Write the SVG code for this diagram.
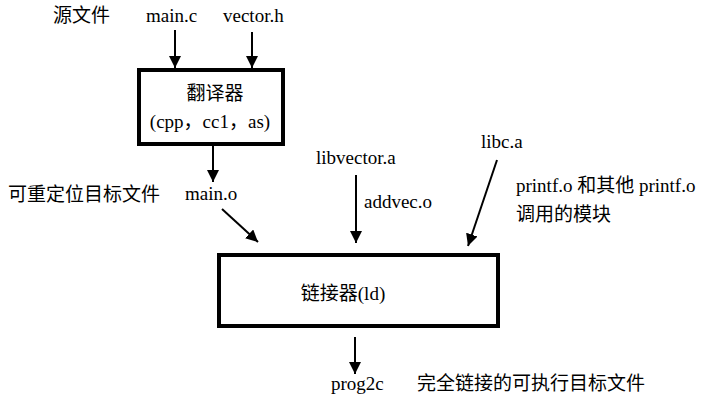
<svg xmlns="http://www.w3.org/2000/svg" width="713" height="406" viewBox="0 0 713 406">
<defs>
<marker id="ah" viewBox="0 0 12 12" refX="12" refY="6" markerWidth="12" markerHeight="12" markerUnits="userSpaceOnUse" orient="auto">
<path d="M0,0 L12,6 L0,12 Z" fill="#000"/>
</marker>
</defs>
<style>
text{font-family:"Liberation Serif","Noto Sans CJK SC",serif;font-size:19px;fill:#000}
.box{fill:#fff;stroke:#000;stroke-width:4}
.c{stroke:#000;stroke-width:2;fill:none;marker-end:url(#ah)}
</style>
<rect width="713" height="406" fill="#fff"/>
<g id="labels">
<text x="53" y="22">源文件</text>
<text x="146" y="22">main.c</text>
<text x="223" y="22">vector.h</text>
<text x="8" y="201">可重定位目标文件</text>
<text x="185" y="200">main.o</text>
<text x="316" y="164">libvector.a</text>
<text x="481" y="148">libc.a</text>
<text x="364" y="208">addvec.o</text>
<text x="516" y="192">printf.o 和其他 printf.o</text>
<text x="516" y="221">调用的模块</text>
<text x="331" y="390">prog2c</text>
<text x="417" y="390">完全链接的可执行目标文件</text>
</g>
<g id="translator">
<rect class="box" x="139" y="70" width="144" height="74"/>
<text x="215" y="100" text-anchor="middle">翻译器</text>
<text x="210" y="128" text-anchor="middle">(cpp，cc1，as)</text>
</g>
<g id="linker">
<rect class="box" x="219" y="255" width="279" height="71"/>
<text x="343" y="300" text-anchor="middle">链接器(ld)</text>
</g>
<g id="connectors">
<line class="c" x1="175" y1="30" x2="175" y2="68"/>
<line class="c" x1="252" y1="32" x2="252" y2="68"/>
<line class="c" x1="213" y1="146" x2="213" y2="182"/>
<line class="c" x1="222" y1="209" x2="258" y2="242"/>
<line class="c" x1="356" y1="175" x2="356" y2="243"/>
<line class="c" x1="497" y1="160" x2="468" y2="246"/>
<line class="c" x1="355" y1="337" x2="355" y2="374"/>
</g>
</svg>
